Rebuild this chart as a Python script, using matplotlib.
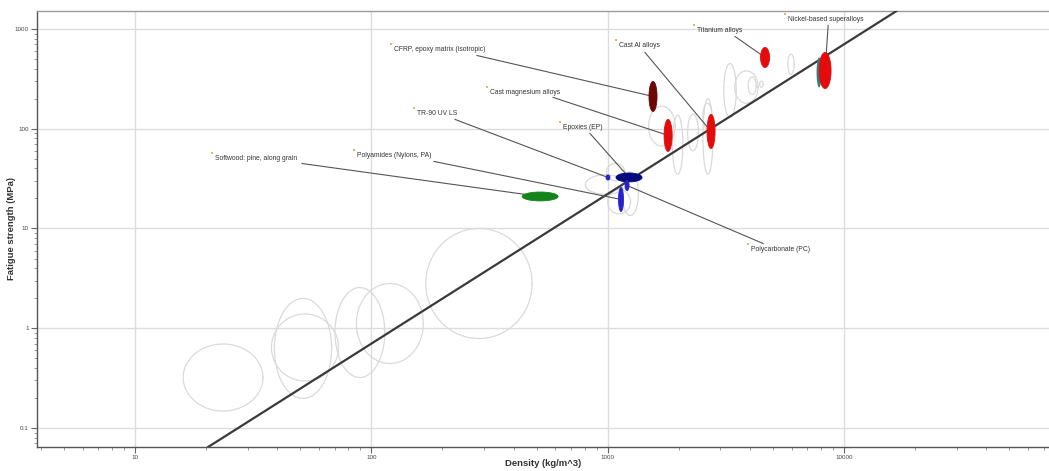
import numpy as np
import matplotlib
matplotlib.use("Agg")
import matplotlib.pyplot as plt

plt.rcParams['font.family'] = ['Liberation Sans', 'DejaVu Sans']

# Highlighted material families: density range (kg/m^3) and fatigue strength range (MPa)
materials = ["Softwood: pine, along grain", "CFRP, epoxy matrix (isotropic)",
             "Cast magnesium alloys", "Cast Al alloys", "Titanium alloys",
             "Nickel-based superalloys", "Epoxies (EP)", "Polyamides (Nylons, PA)",
             "Polycarbonate (PC)", "TR-90 UV LS"]
density_lo = [435, 1496, 1733, 2634, 4436, 7846, 1085, 1112, 1185, 984]
density_hi = [617, 1618, 1874, 2848, 4842, 8818, 1398, 1167, 1232, 1023]
strength_lo = [18.9, 149, 59.2, 63.4, 411, 253, 29.3, 14.8, 24.0, 30.6]
strength_hi = [23.2, 298, 124, 139, 653, 581, 36.0, 25.8, 30.3, 34.4]
fill_colors = ["#12841a", "#6e0606", "#e30b0b", "#e30b0b", "#e30b0b",
               "#e30b0b", "#07077e", "#2323c8", "#2323c8", "#2323c8"]

# Second grade on the nickel family
extra_density_lo = [7656]
extra_density_hi = [8036]
extra_strength_lo = [259]
extra_strength_hi = [518]
extra_colors = ["#2f8080"]

# Background families drawn as outlines only
bg_density_lo = [16.0, 37.8, 38.9, 70.2, 86.5, 170, 805, 1000, 990, 1150, 1490,
                 1880, 2530, 2180, 2530, 3100, 3450, 3930, 4400, 5790]
bg_density_hi = [34.8, 72.6, 67.9, 114, 166, 479, 1190, 1250, 1180, 1350, 1930,
                 2080, 2790, 2420, 2760, 3500, 4330, 4250, 4550, 6150]
bg_strength_lo = [0.148, 0.296, 0.198, 0.321, 0.443, 0.789, 22.0, 14.0, 30.0,
                  13.5, 67.0, 35.0, 35.0, 60.0, 100, 130, 180, 220, 260, 350]
bg_strength_hi = [0.695, 1.39, 1.99, 2.56, 2.81, 10.0, 34.5, 24.5, 45.0, 37.0,
                  168, 137, 200, 140, 180, 450, 380, 330, 300, 560]

# Label anchors and leader start points (data coordinates)
label_xy = [(21.2, 56.5), (121, 699), (309, 259), (1085, 767), (2321, 1084),
            (5631, 1398), (629, 115.5), (84.5, 60.5), (3930, 6.91), (151.6, 159.6)]
leader_from = [(50.9, 44.8), (280, 542), (588, 206), (1439, 581), (3459, 841),
               (8570, 1084), (842, 89.6), (184, 47.0), (4547, 7.07), (226, 124)]

# Performance guideline (slope 1.5 on log-log axes)
guide_p1 = (20.4, 0.0645)
guide_p2 = (10000, 702)

x_ticks = [10, 100, 1000, 10000]
x_ticklabels = ["10", "100", "1000", "10000"]
y_ticks = [0.1, 1, 10, 100, 1000]
y_ticklabels = ["0.1", "1", "10", "100", "1000"]


def log_ellipse(x0, x1, y0, y1, n=120):
    lx0, lx1, ly0, ly1 = np.log10([x0, x1, y0, y1])
    cx, cy = (lx0 + lx1) / 2, (ly0 + ly1) / 2
    rx, ry = (lx1 - lx0) / 2, (ly1 - ly0) / 2
    t = np.linspace(0, 2 * np.pi, n)
    return 10 ** (cx + rx * np.cos(t)), 10 ** (cy + ry * np.sin(t))


fig = plt.figure(figsize=(10.49, 4.71), dpi=100)
ax = fig.add_axes([37 / 1049, 24 / 471, 1012 / 1049, 436 / 471])
ax.set_xscale("log")
ax.set_yscale("log")
ax.set_xlim(3.85, 73700)
ax.set_ylim(0.0645, 1514)

ax.grid(True, which="major", color="#dcdcdc", lw=1.0)
ax.set_axisbelow(True)

for a, b, c, d in zip(bg_density_lo, bg_density_hi, bg_strength_lo, bg_strength_hi):
    ex, ey = log_ellipse(a, b, c, d)
    ax.plot(ex, ey, color="#dadada", lw=0.9, zorder=2)

ax.axline(guide_p1, guide_p2, color="#3a3a3a", lw=1.6, zorder=3)

# Leader lines from labels to each family
for i in range(len(materials)):
    cx = np.sqrt(density_lo[i] * density_hi[i])
    cy = np.sqrt(strength_lo[i] * strength_hi[i])
    sx, sy = leader_from[i]
    ax.plot([sx, cx], [sy, cy], color="#555555", lw=0.8, zorder=4)

for a, b, c, d, col in zip(extra_density_lo, extra_density_hi, extra_strength_lo,
                           extra_strength_hi, extra_colors):
    ex, ey = log_ellipse(a, b, c, d)
    ax.fill(ex, ey, color=col, lw=0, zorder=5)

for a, b, c, d, col in zip(density_lo, density_hi, strength_lo, strength_hi, fill_colors):
    ex, ey = log_ellipse(a, b, c, d)
    ax.fill(ex, ey, color=col, lw=0.6, edgecolor=col, zorder=6)

for name, (lx, ly) in zip(materials, label_xy):
    ax.plot([lx], [ly], marker="s", ms=2.0, color="#e2b85a", mew=0, zorder=7)
    ax.annotate(name, (lx, ly), xytext=(2, -1.2), textcoords="offset points",
                fontsize=4.9, color="#333333", ha="left", va="top", zorder=7)

ax.set_xticks(x_ticks)
ax.set_xticklabels(x_ticklabels)
ax.set_yticks(y_ticks)
ax.set_yticklabels(y_ticklabels)
ax.tick_params(which="major", length=4, width=0.8, color="#666666",
               labelsize=4.5, labelcolor="#444444", pad=2)
ax.tick_params(which="minor", length=2.5, width=0.6, color="#888888")

for side in ("left", "bottom"):
    ax.spines[side].set_color("#555555")
    ax.spines[side].set_linewidth(1.0)
ax.spines["top"].set_color("#9a9a9a")
ax.spines["top"].set_linewidth(1.0)
ax.spines["right"].set_visible(False)

ax.set_xlabel("Density (kg/m^3)", fontsize=6.8, fontweight="bold", color="#333333")
ax.set_ylabel("Fatigue strength (MPa)", fontsize=6.8, fontweight="bold", color="#333333")
ax.xaxis.set_label_coords(0.5, -16 / 436)
ax.xaxis.label.set_va("center")
ax.yaxis.set_label_coords(-25 / 1012, 0.5)
ax.yaxis.label.set_va("center")

fig.savefig("out.png", dpi=100)
